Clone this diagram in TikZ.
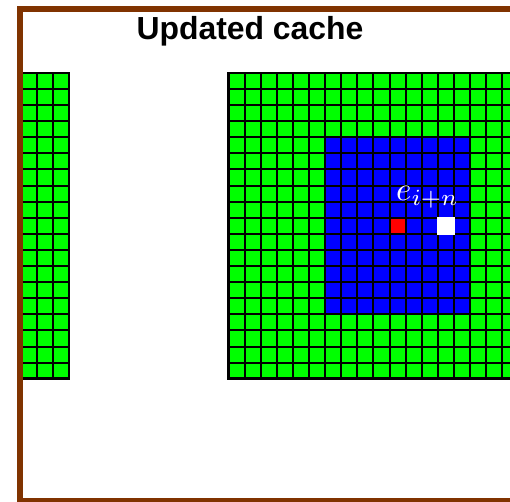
\documentclass[tikz,border=0pt]{standalone}
\usepackage{fontspec}
\newfontfamily\titlefont{Liberation Sans}
\definecolor{cellgreen}{RGB}{0,255,0}
\definecolor{cellblue}{RGB}{0,0,255}
\definecolor{cellred}{RGB}{255,0,0}
\definecolor{framebrown}{RGB}{128,51,0}
\tikzset{
  gridline/.style={draw=black, line width=2pt},
  gridborder/.style={draw=black, line width=2.6pt},
  framebox/.style={draw=framebrown, line width=6pt},
  titletext/.style={font=\titlefont\bfseries\fontsize{31.9}{38}\selectfont, inner sep=0pt},
  celllabel/.style={text=white, scale=3.3, inner sep=0pt}
}
\begin{document}
\begin{tikzpicture}[x=1pt,y=-1pt]
\useasboundingbox (0,0) rectangle (510,501);
\clip (0,0) rectangle (510,501);
\fill[white] (0,0) rectangle (510,501);

% cell size and grid origins
\def\cs{16.1}
\def\gy{72.8}
\def\rx{228.5}
\def\lx{4.6}

% ---- left cache block (cut off by the frame) ----
\begin{scope}
\clip (19,0) rectangle (100,501);
\fill[cellgreen] (\lx,\gy) rectangle (69,{\gy+19*\cs});
\foreach \k in {1,2,3}
  \draw[gridline] ({\lx+\k*\cs},\gy) -- ++(0,{19*\cs});
\foreach \r in {1,...,18}
  \draw[gridline] (\lx,{\gy+\r*\cs}) -- (69,{\gy+\r*\cs});
\draw[gridborder] (\lx,\gy) -- (69,\gy) -- (69,{\gy+19*\cs}) -- (\lx,{\gy+19*\cs});
\end{scope}

% ---- right cache block ----
\fill[cellgreen] (\rx,\gy) rectangle (530,{\gy+19*\cs});
\fill[cellblue] ({\rx+6*\cs},{\gy+4*\cs}) rectangle ({\rx+15*\cs},{\gy+15*\cs});
\fill[cellred] ({\rx+10*\cs},{\gy+9*\cs}) rectangle ({\rx+11*\cs},{\gy+10*\cs});
\foreach \k in {1,...,19}
  \draw[gridline] ({\rx+\k*\cs},\gy) -- ++(0,{19*\cs});
\foreach \r in {1,...,18}
  \draw[gridline] (\rx,{\gy+\r*\cs}) -- (530,{\gy+\r*\cs});
\draw[gridborder] (530,\gy) -- (\rx,\gy) -- (\rx,{\gy+19*\cs}) -- (530,{\gy+19*\cs});
% current entry, drawn over the grid lines
\fill[white] ({\rx+13*\cs-1},{\gy+9*\cs-1}) rectangle ({\rx+14*\cs+1},{\gy+10*\cs+1});

\node[celllabel, anchor=base west] (entry) at (395.5,200.5) {$e_{i+n}$};

% ---- outer frame ----
\draw[framebox] (530,8.5) -- (20.3,8.5) -- (20.3,500.8) -- (530,500.8);

\node[titletext, anchor=base] (title) at (250,39.5) {Updated cache};
\end{tikzpicture}
\end{document}
